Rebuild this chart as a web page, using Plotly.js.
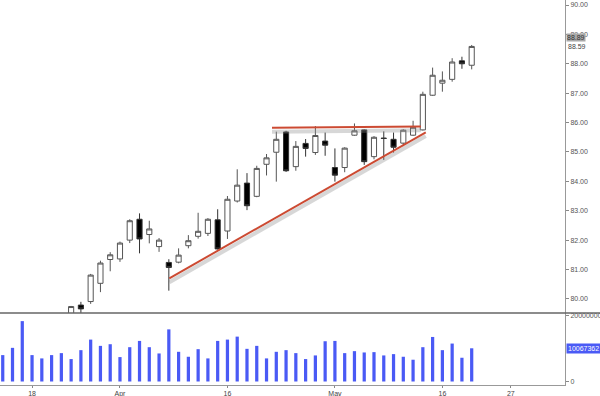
<!DOCTYPE html>
<html>
<head>
<meta charset="utf-8">
<script src="https://cdn.plot.ly/plotly-3.0.1.min.js"></script>
<style>html,body{margin:0;padding:0;background:#fff;}#chart{width:600px;height:396px;}</style>
</head>
<body>
<div id="chart"></div>
<script>
// Trading days (2013-03-13 .. 2013-05-21), x = trading-day index
const dates = ['03-13','03-14','03-15','03-18','03-19','03-20','03-21','03-22','03-25','03-26','03-27','03-28',
  '04-01','04-02','04-03','04-04','04-05','04-08','04-09','04-10','04-11','04-12','04-15','04-16','04-17','04-18','04-19',
  '04-22','04-23','04-24','04-25','04-26','04-29','04-30','05-01','05-02','05-03','05-06','05-07','05-08','05-09','05-10',
  '05-13','05-14','05-15','05-16','05-17','05-20','05-21'];
const openP  = [79.00,79.10,79.20,78.90,79.00,79.10,79.20,79.35,79.79,79.91,80.53,81.34,81.36,82.00,82.71,82.19,81.78,81.24,81.25,81.81,82.13,82.23,82.69,82.31,83.33,83.94,83.49,84.58,84.99,85.68,84.50,85.29,84.98,85.37,84.47,84.47,85.57,85.75,84.84,85.47,85.43,85.30,85.57,85.75,86.93,87.34,87.47,88.10,87.95];
const highP  = [79.30,79.35,79.40,79.20,79.30,79.52,79.45,79.76,79.90,80.85,81.30,81.59,81.95,82.71,82.91,82.66,82.07,81.35,81.72,82.17,82.93,82.75,83.05,83.50,84.41,84.28,84.53,84.93,85.69,85.72,85.37,85.44,85.88,85.66,85.12,85.16,85.97,85.77,85.54,85.70,85.66,85.77,86.06,87.05,87.87,87.74,88.19,88.24,88.64];
const lowP   = [78.80,78.90,78.70,78.60,78.80,78.90,79.00,79.25,79.35,79.83,80.23,80.94,81.26,81.90,81.55,81.89,81.60,80.28,81.21,81.72,82.05,82.14,81.68,82.04,83.28,83.02,83.46,84.20,83.99,84.32,84.36,84.84,84.90,84.87,83.99,84.31,85.55,84.56,84.75,84.73,84.98,85.20,85.55,85.73,86.91,87.05,87.39,87.83,87.81];
const closeP = [79.10,79.20,78.90,79.00,79.10,79.20,79.30,79.74,79.66,80.81,81.22,81.50,81.90,82.66,82.04,82.38,82.00,81.07,81.49,81.98,82.30,82.71,81.70,83.39,83.87,83.17,84.44,84.80,85.43,84.36,85.19,85.12,85.56,85.23,84.21,85.13,85.72,84.67,85.50,85.46,85.16,85.74,85.84,86.96,87.61,87.44,88.06,88.00,88.59];
const volume = [8000000,10200000,18300000,8000000,7000000,8000000,8600000,6800000,9500000,12700000,10800000,11300000,7400000,10400000,12300000,10400000,8500000,15800000,9000000,7500000,9800000,7000000,12300000,12700000,13600000,9900000,10800000,7000000,9000000,9500000,8600000,6800000,7900000,12200000,12300000,8600000,9200000,8800000,8900000,7900000,8300000,7500000,6600000,10400000,13500000,9500000,11500000,7200000,10067362];

// x-axis tick labels (trading-day index incl. future days)
const tickIdx  = [3, 12, 23, 34, 45, 52];
const tickText = ['18', 'Apr', '16', 'May', '16', '27'];

// Trendlines (index, price)
const supportX = [17.05, 43.3],  supportY = [80.70, 85.67];
const resistX  = [27.56, 42.8],  resistY  = [85.82, 85.87];

// price tags on the right axis
const tagPrice = 88.89;
const lastClose = 88.59;

const xIdx = dates.map((d, i) => i);
const shadowDy = -0.13;

const traces = [
  {type:'scatter', mode:'lines', x: supportX, y: supportY.map(v => v + shadowDy), xaxis:'x', yaxis:'y',
   line:{color:'rgba(140,140,140,0.35)', width:4}, hoverinfo:'skip', showlegend:false},
  {type:'scatter', mode:'lines', x: resistX, y: resistY.map(v => v + shadowDy), xaxis:'x', yaxis:'y',
   line:{color:'rgba(140,140,140,0.35)', width:4}, hoverinfo:'skip', showlegend:false},
  {type:'candlestick', x: xIdx, open: openP, high: highP, low: lowP, close: closeP, xaxis:'x', yaxis:'y',
   increasing:{line:{color:'#555555', width:1}, fillcolor:'#ffffff'},
   decreasing:{line:{color:'#333333', width:1}, fillcolor:'#000000'},
   whiskerwidth:0, showlegend:false, hoverinfo:'skip'},
  {type:'scatter', mode:'lines', x: supportX, y: supportY, xaxis:'x', yaxis:'y',
   line:{color:'#cc4a32', width:2}, hoverinfo:'skip', showlegend:false},
  {type:'scatter', mode:'lines', x: resistX, y: resistY, xaxis:'x', yaxis:'y',
   line:{color:'#cc4a32', width:2}, hoverinfo:'skip', showlegend:false},
  {type:'bar', x: xIdx, y: volume, xaxis:'x', yaxis:'y2', width:0.33,
   marker:{color:'#4a5af5', line:{width:0}}, hoverinfo:'skip', showlegend:false}
];

const axFont = {family:'Liberation Sans, Arial, sans-serif', size:7, color:'#555'};
const split = 0.187;

const layout = {
  width:600, height:396,
  margin:{l:0, r:35, t:0, b:11},
  paper_bgcolor:'#fff', plot_bgcolor:'#fff',
  showlegend:false,
  boxgap:0.25,
  xaxis:{anchor:'y2', range:[-0.28, 57.55], tickvals: tickIdx, ticktext: tickText,
    ticks:'outside', ticklen:2, tickcolor:'#888', showline:true, linecolor:'#999', linewidth:1,
    showgrid:false, zeroline:false, rangeslider:{visible:false},
    tickfont:{family:'Liberation Sans, Arial, sans-serif', size:7, color:'#444'}},
  yaxis:{domain:[split, 1], side:'right', anchor:'x', range:[79.52, 90.17], dtick:1, tickformat:'.2f',
    ticks:'outside', ticklen:3, tickcolor:'#888', showline:true, linecolor:'#999', linewidth:1,
    showgrid:false, zeroline:false, tickfont:axFont},
  yaxis2:{domain:[0, split], side:'right', anchor:'x', range:[-1060000, 20760000],
    tickvals:[0, 20000000], ticktext:['0','20000000'],
    ticks:'outside', ticklen:3, tickcolor:'#888', showline:true, linecolor:'#999', linewidth:1,
    showgrid:false, zeroline:false, tickfont:axFont},
  shapes:[
    {type:'line', xref:'paper', yref:'paper', x0:0, x1:1.07, y0:split, y1:split,
     line:{color:'#666', width:1.5}}
  ],
  annotations:[
    {xref:'paper', yref:'y', x:1, y:tagPrice, xanchor:'left', yanchor:'middle', xshift:1,
     text: tagPrice.toFixed(2), showarrow:false, bgcolor:'#a8a8a8', borderpad:0,
     font:{family:'Liberation Sans, Arial, sans-serif', size:7, color:'#333'}},
    {xref:'paper', yref:'y', x:1, y:lastClose, xanchor:'left', yanchor:'middle', xshift:2,
     text: lastClose.toFixed(2), showarrow:false, bgcolor:'#ffffff', borderpad:0,
     font:{family:'Liberation Sans, Arial, sans-serif', size:7, color:'#444'}},
    {xref:'paper', yref:'y2', x:1, y:volume[volume.length-1], xanchor:'left', yanchor:'middle', xshift:1,
     text: String(volume[volume.length-1]), showarrow:false, bgcolor:'#4a5af5', borderpad:1,
     font:{family:'Liberation Sans, Arial, sans-serif', size:7, color:'#ffffff'}}
  ]
};

Plotly.newPlot('chart', traces, layout, {staticPlot:true, displayModeBar:false});
</script>
</body>
</html>
